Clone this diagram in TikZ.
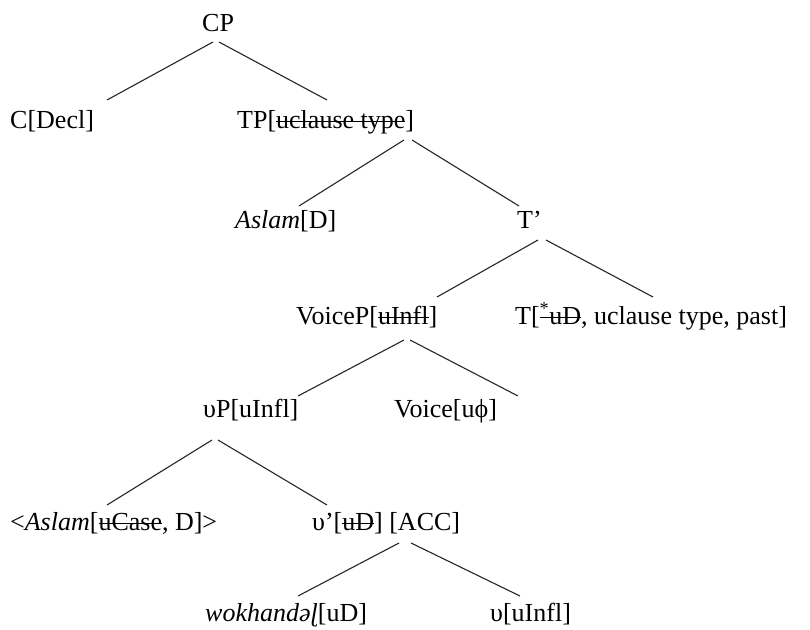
\documentclass[tikz,border=0pt]{standalone}
\usepackage{fontspec}
\setmainfont{Liberation Serif}
\newsavebox\strkbox
\newcommand\strk[1]{\sbox\strkbox{#1}\rlap{\rule[0.5ex]{\wd\strkbox}{0.9pt}}\usebox\strkbox}
\begin{document}
\begin{tikzpicture}[x=1pt,y=-1pt,
  lbl/.style={anchor=base west, inner sep=0pt, font=\fontsize{26}{30}\selectfont},
  branch/.style={line width=1.1pt, draw=black!85}]
\useasboundingbox (0,0) rectangle (810,629);
% labels
\node[lbl] (CP) at (202,31) {CP};
\node[lbl] (C) at (10,128) {C[Decl]};
\node[lbl] (TP) at (237,128) {TP[\strk{uclause type}]};
\node[lbl] (Asl) at (235,228) {\textit{Aslam}[D]};
\node[lbl] (Tbar) at (517,228) {T’};
\node[lbl] (VoiceP) at (296,324) {VoiceP[\strk{uInfl}]};
\node[lbl] (T) at (515,324) {T[\strk{\textsuperscript{*}uD}, uclause type, past]};
\node[lbl] (vP) at (203,417) {υP[uInfl]};
\node[lbl] (Voice) at (394,417) {Voice[uϕ]};
\node[lbl] (AslT) at (10,530) {<\textit{Aslam}[\strk{uCase}, D]>};
\node[lbl] (vbar) at (312,530) {υ’[\strk{uD}] [ACC]};
\node[lbl] (wok) at (205,621) {\textit{wokhandəɭ}[uD]};
\node[lbl] (v) at (490,621) {υ[uInfl]};
% branch end points
\coordinate (CP-l) at (213,42);  \coordinate (C-t) at (107,100);
\coordinate (CP-r) at (219,42);  \coordinate (TP-t) at (327,100);
\coordinate (TP-l) at (404,140); \coordinate (Asl-t) at (299,206);
\coordinate (TP-r) at (412,140); \coordinate (Tbar-t) at (519,206);
\coordinate (Tbar-l) at (538,240); \coordinate (VoiceP-t) at (437,297);
\coordinate (Tbar-r) at (546,240); \coordinate (T-t) at (653,297);
\coordinate (VoiceP-l) at (404,340); \coordinate (vP-t) at (298,396);
\coordinate (VoiceP-r) at (410,340); \coordinate (Voice-t) at (518,396);
\coordinate (vP-l) at (212,440); \coordinate (AslT-t) at (107,505);
\coordinate (vP-r) at (218,440); \coordinate (vbar-t) at (327,505);
\coordinate (vbar-l) at (399,543); \coordinate (wok-t) at (298,596);
\coordinate (vbar-r) at (411,543); \coordinate (v-t) at (520,596);
% branches
\draw[branch] (CP-l) -- (C-t);
\draw[branch] (CP-r) -- (TP-t);
\draw[branch] (TP-l) -- (Asl-t);
\draw[branch] (TP-r) -- (Tbar-t);
\draw[branch] (Tbar-l) -- (VoiceP-t);
\draw[branch] (Tbar-r) -- (T-t);
\draw[branch] (VoiceP-l) -- (vP-t);
\draw[branch] (VoiceP-r) -- (Voice-t);
\draw[branch] (vP-l) -- (AslT-t);
\draw[branch] (vP-r) -- (vbar-t);
\draw[branch] (vbar-l) -- (wok-t);
\draw[branch] (vbar-r) -- (v-t);
\end{tikzpicture}
\end{document}
